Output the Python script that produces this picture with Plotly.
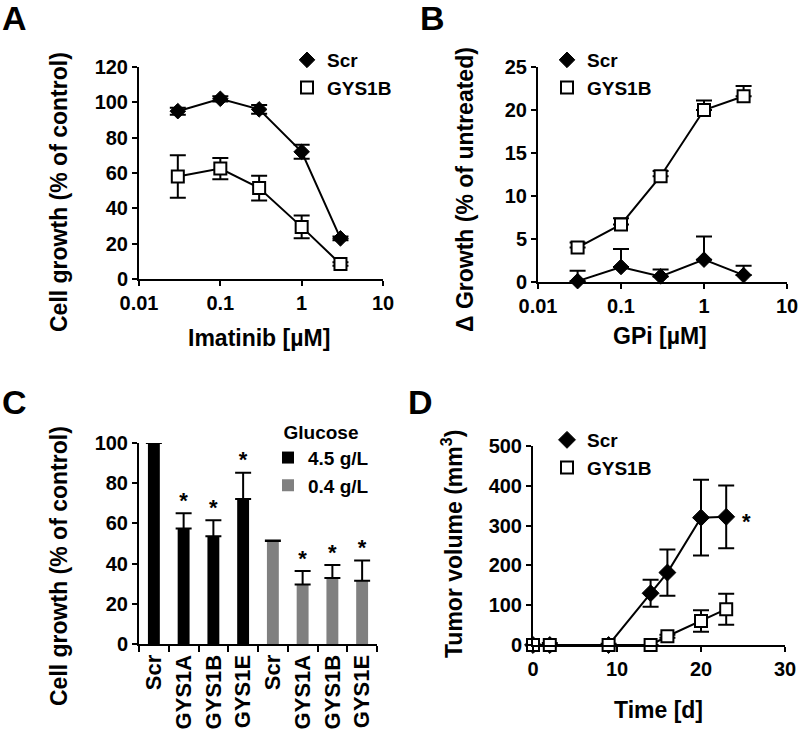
import plotly.graph_objects as go

# ---------------- data ----------------
# Panel A
imatinib_dose = [0.03, 0.1, 0.3, 1, 3]
a_scr = [95, 102, 96, 72, 23]
a_scr_err = [2, 1.5, 2.5, 4, 1]
a_gys = [58, 62.5, 51.5, 29.5, 8.5]
a_gys_err = [12, 6, 7, 6.5, 1]

# Panel B
gpi_dose = [0.03, 0.1, 0.3, 1, 3]
b_scr = [0.1, 1.75, 0.65, 2.6, 0.8]
b_scr_err = [1.2, 2.1, 0.8, 2.7, 1.1]
b_gys = [4.0, 6.7, 12.3, 20.0, 21.6]
b_gys_err = [0.6, 0.7, 0.6, 1.1, 1.2]

# Panel C
c_labels = ["Scr", "GYS1A", "GYS1B", "GYS1E", "Scr", "GYS1A", "GYS1B", "GYS1E"]
c_high = [100, 57.5, 53.6, 72.2]
c_high_err = [0, 7.5, 8, 13]
c_low = [51.2, 29.6, 32.8, 31.5]
c_low_err = [0.3, 6.7, 6.5, 10]
c_sig = ["", "*", "*", "*", "", "*", "*", "*"]

# Panel D
d_days_scr = [0, 2, 9, 14, 16, 20, 23]
d_scr = [0, 0, 0, 130, 182, 320, 322]
d_scr_err = [0, 5, 3, 34, 58, 95, 79]
d_days_gys = [0, 2, 9, 14, 16, 20, 23]
d_gys = [0, 0, 0, 0, 22, 60, 90]
d_gys_err = [0, 0, 0, 0, 4, 27, 39]

# ---------------- styling ----------------
W, H = 800, 733
FONT = "Arial, Liberation Sans, sans-serif"
TICK = dict(family=FONT, size=20, color="black", weight="bold")
TITLE = dict(family=FONT, size=23, color="black", weight="bold")
LEG = dict(family=FONT, size=19, color="black", weight="bold")
GRAY = "#808080"


def px(x):
    return x / W


def py(y):
    return 1 - y / H


fig = go.Figure()


def err(vals, upper_only=False, w=8):
    d = dict(type="data", array=vals, color="black", thickness=2, width=w, visible=True)
    if upper_only:
        d["symmetric"] = False
        d["arrayminus"] = [0] * len(vals)
    return d


diamond = dict(symbol="diamond", size=12, color="black", line=dict(color="black", width=1))
diamond_d = dict(symbol="diamond", size=13, color="black", line=dict(color="black", width=1))
square = dict(symbol="square", size=12, color="white", line=dict(color="black", width=2))
line = dict(color="black", width=2)


def series(x, y, e, marker, ax, upper_only=False):
    fig.add_trace(go.Scatter(x=x, y=y, mode="lines+markers", marker=marker, line=line,
                             error_y=err(e, upper_only), xaxis="x" + ax, yaxis="y" + ax,
                             showlegend=False, cliponaxis=False, hoverinfo="x+y"))


def legend_entry(name, marker, ax, leg):
    # marker-only legend key (as in the reference)
    fig.add_trace(go.Scatter(x=[None], y=[None], mode="markers", name=name, marker=marker,
                             xaxis="x" + ax, yaxis="y" + ax, legend=leg, showlegend=True))


# A
series(imatinib_dose, a_scr, a_scr_err, diamond, "")
series(imatinib_dose, a_gys, a_gys_err, square, "")
legend_entry("Scr", diamond, "", "legend")
legend_entry("GYS1B", square, "", "legend")
# B
series(gpi_dose, b_scr, b_scr_err, diamond, "2", True)
series(gpi_dose, b_gys, b_gys_err, square, "2", True)
legend_entry("Scr", diamond, "2", "legend2")
legend_entry("GYS1B", square, "2", "legend2")
# C
c_x = list(range(len(c_labels)))
fig.add_trace(go.Bar(x=c_x[:4], y=c_high, name="4.5 g/L", width=0.4,
                     marker=dict(color="black", line=dict(width=0)),
                     error_y=err(c_high_err, True),
                     xaxis="x3", yaxis="y3", legend="legend3"))
fig.add_trace(go.Bar(x=c_x[4:], y=c_low, name="0.4 g/L", width=0.4,
                     marker=dict(color=GRAY, line=dict(width=0)),
                     error_y=err(c_low_err, True),
                     xaxis="x3", yaxis="y3", legend="legend3"))
c_vals = c_high + c_low
c_errs = c_high_err + c_low_err
star_x = [x for x, s in zip(c_x, c_sig) if s]
star_y = [c_vals[i] + c_errs[i] for i, s in zip(c_x, c_sig) if s]
star_t = [s for s in c_sig if s]
fig.add_trace(go.Scatter(x=star_x, y=star_y, mode="text", text=star_t,
                         textposition="top center",
                         textfont=dict(family=FONT, size=22, color="black", weight="bold"),
                         showlegend=False, xaxis="x3", yaxis="y3", cliponaxis=False))
# D
series(d_days_scr, d_scr, d_scr_err, diamond_d, "4")
series(d_days_gys, d_gys, d_gys_err, square, "4")
legend_entry("Scr", diamond_d, "4", "legend4")
legend_entry("GYS1B", square, "4", "legend4")

axis_common = dict(showline=True, linecolor="black", linewidth=2, ticks="outside",
                   ticklen=5, tickwidth=2, tickcolor="black", showgrid=False,
                   zeroline=False, tickfont=TICK, fixedrange=True, automargin=False)

log_ticks = [0.01, 0.1, 1, 10]
leg_common = dict(xanchor="left", yanchor="top", font=LEG, bgcolor="rgba(0,0,0,0)",
                  borderwidth=0)
fig.update_layout(
    template="none",
    width=W, height=H, margin=dict(l=0, r=0, t=0, b=0, pad=0, autoexpand=False),
    paper_bgcolor="white", plot_bgcolor="white",
    xaxis=dict(axis_common, type="log", range=[-2, 1], tickvals=log_ticks,
               ticktext=["0.01", "0.1", "1", "10"], domain=[px(139), px(383)], anchor="y"),
    yaxis=dict(axis_common, range=[0, 120], dtick=20, domain=[py(279), py(67)], anchor="x"),
    xaxis2=dict(axis_common, type="log", range=[-2, 1], tickvals=log_ticks,
                ticktext=["0.01", "0.1", "1", "10"], domain=[px(538), px(787)], anchor="y2"),
    yaxis2=dict(axis_common, range=[0, 25], dtick=5, domain=[py(282), py(67)], anchor="x2"),
    xaxis3=dict(axis_common, range=[-0.5, 7.5], tickvals=c_x, ticktext=c_labels,
                ticks="", tickangle=-90, tickfont=dict(TICK, size=22),
                minor=dict(tickmode="linear", tick0=0.5, dtick=1, ticks="outside",
                           ticklen=6, tickwidth=2, tickcolor="black", showgrid=False),
                domain=[px(139), px(377)], anchor="y3"),
    yaxis3=dict(axis_common, range=[0, 100], dtick=20, domain=[py(644), py(443)], anchor="x3"),
    xaxis4=dict(axis_common, range=[0, 30], dtick=10, domain=[px(533), px(785)], anchor="y4"),
    yaxis4=dict(axis_common, range=[0, 500], dtick=100, domain=[py(645), py(446)], anchor="x4"),
    legend=dict(leg_common, x=px(287), y=py(41)),
    legend2=dict(leg_common, x=px(547), y=py(41)),
    legend3=dict(leg_common, x=px(268), y=py(414),
                 title=dict(text="Glucose", side="top center", font=LEG)),
    legend4=dict(leg_common, x=px(547), y=py(421)),
    showlegend=True,
    hovermode=False,
)

annots = [
    # panel letters
    dict(text="A", x=px(14), y=py(18)),
    dict(text="B", x=px(432), y=py(18)),
    dict(text="C", x=px(14), y=py(402)),
    dict(text="D", x=px(420), y=py(402)),
]
for a in annots:
    a.update(font=dict(family=FONT, size=34, color="black", weight="bold"))

titles = [
    dict(text="Cell growth (% of control)", x=px(59), y=py(192), textangle=-90),
    dict(text="Imatinib [µM]", x=px(259), y=py(338)),
    dict(text="Δ Growth (% of untreated)", x=px(465), y=py(190), textangle=-90),
    dict(text="GPi [µM]", x=px(660), y=py(336)),
    dict(text="Cell growth (% of control)", x=px(59), y=py(566), textangle=-90),
    dict(text="Tumor volume (mm<sup>3</sup>)", x=px(452), y=py(544), textangle=-90),
    dict(text="Time [d]", x=px(658), y=py(710)),
]
for t in titles:
    t.update(font=TITLE)

allann = annots + titles
for a in allann:
    a.update(xref="paper", yref="paper", showarrow=False, xanchor="center", yanchor="middle")

star_d = dict(text="*", x=25.4, y=310, xref="x4", yref="y4", showarrow=False,
              xanchor="center", yanchor="middle",
              font=dict(family=FONT, size=22, color="black", weight="bold"))

fig.update_layout(annotations=allann + [star_d])
fig.write_html(
    "out.html",
    config={"displayModeBar": False, "staticPlot": True},
    post_script="document.body.style.margin='0px';document.body.style.overflow='hidden';",
)
